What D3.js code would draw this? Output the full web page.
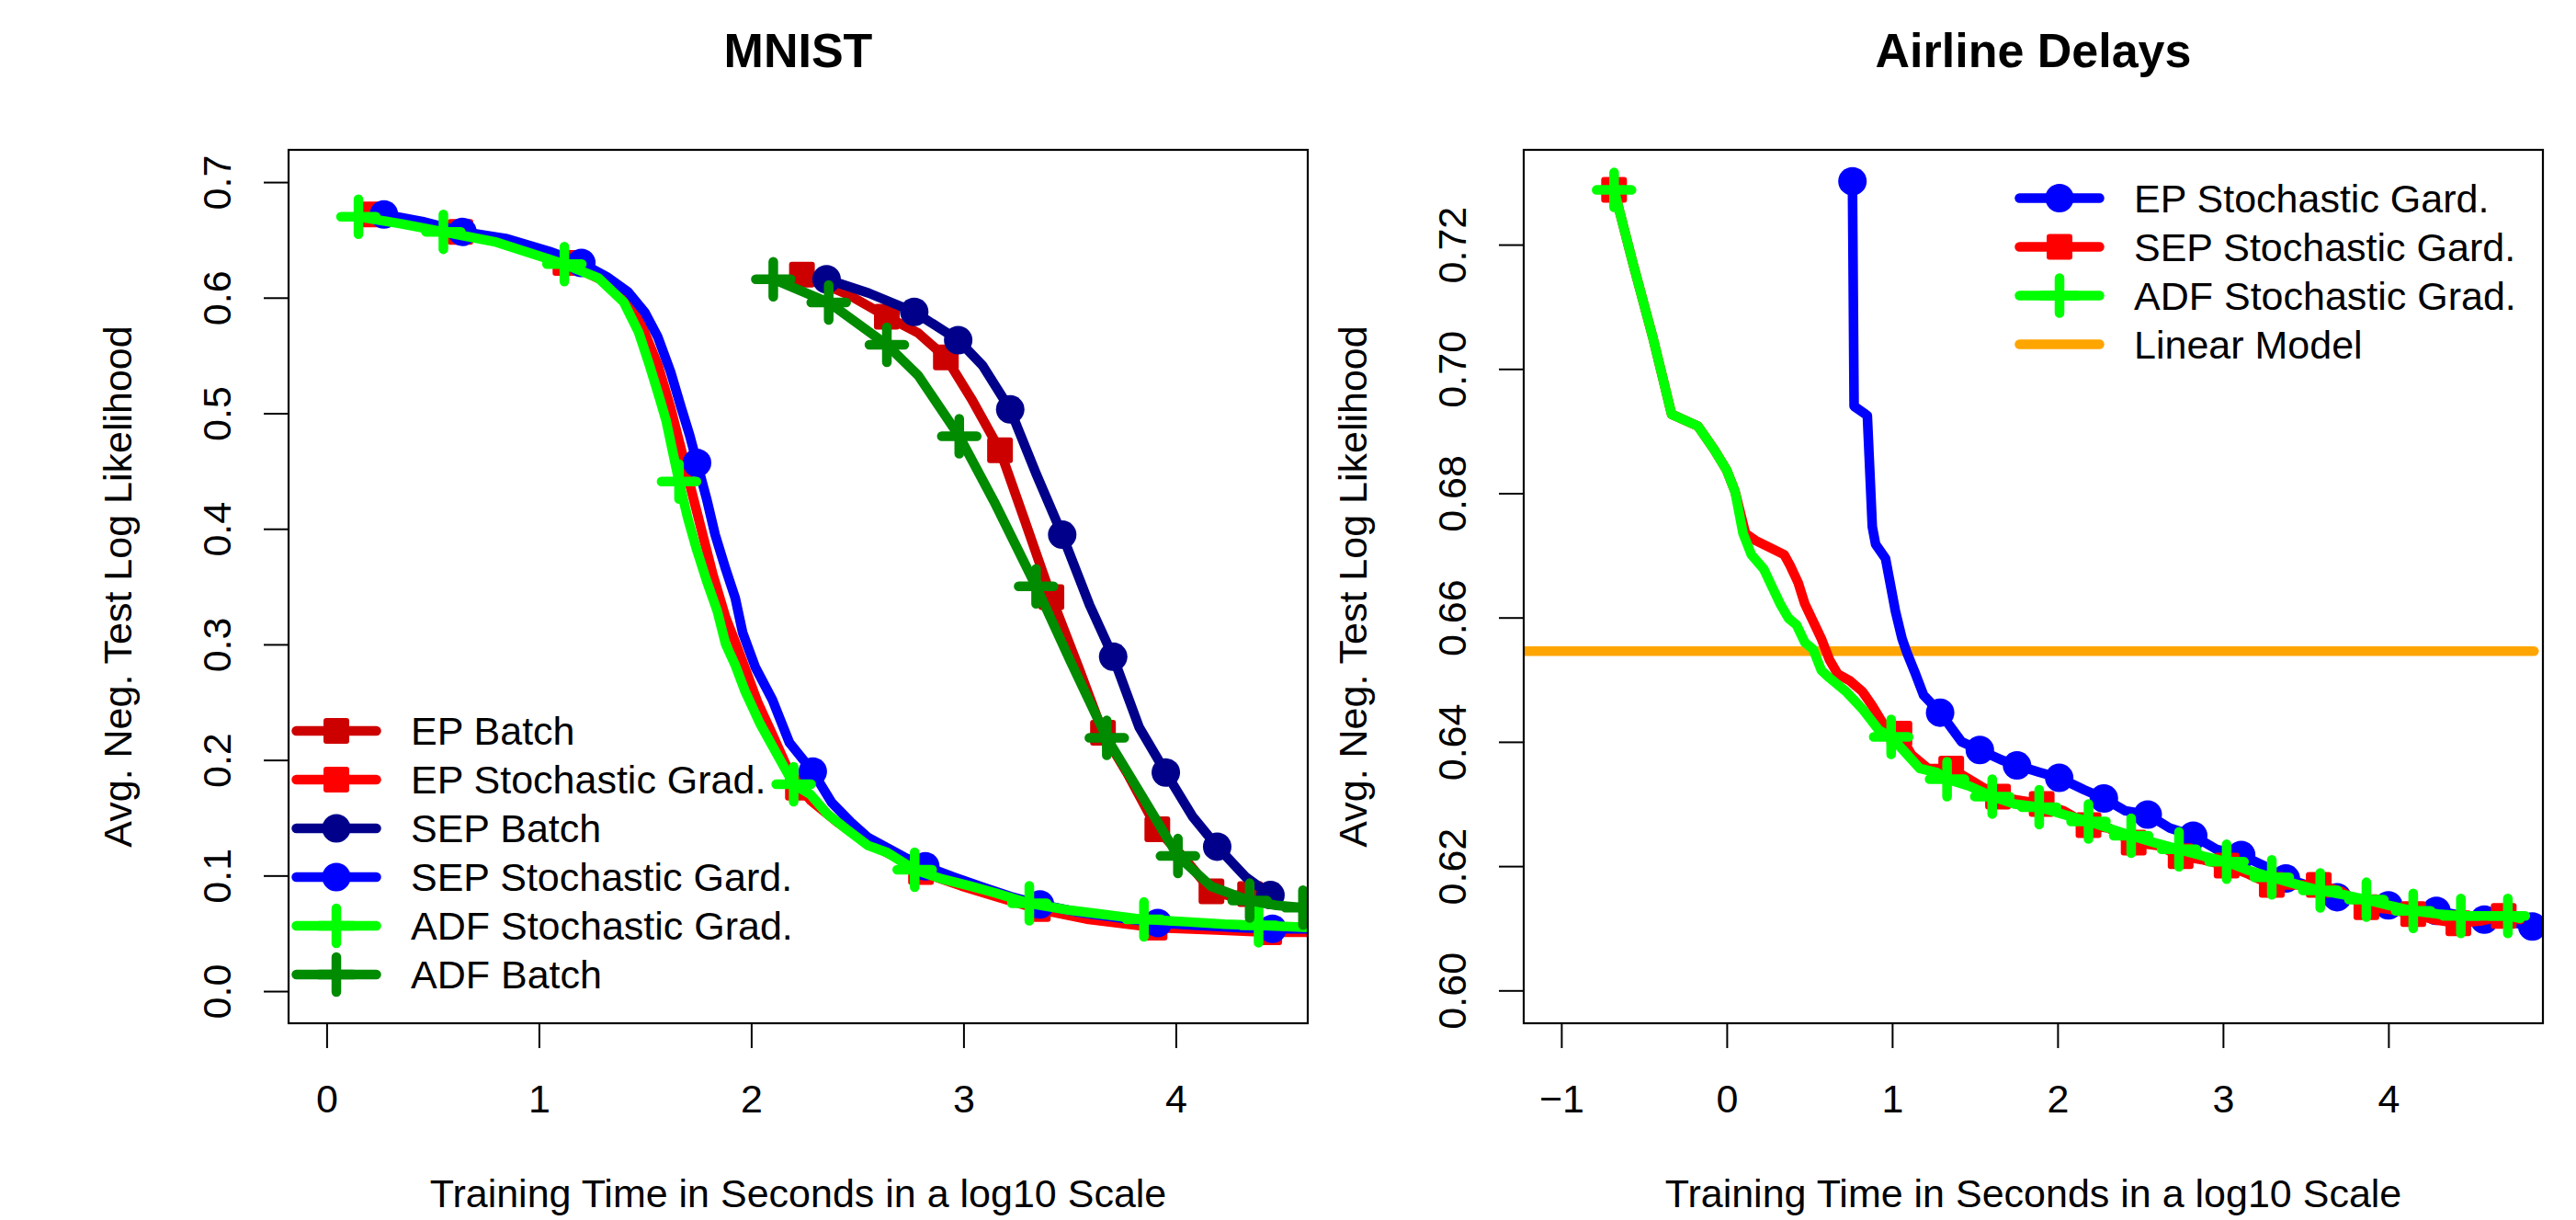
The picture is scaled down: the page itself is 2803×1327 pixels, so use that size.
<!DOCTYPE html>
<html><head><meta charset="utf-8">
<script src="https://cdn.jsdelivr.net/npm/d3@7"></script>
<style>
body{margin:0;background:#fff}
svg{display:block}
text{font-family:"Liberation Sans",Arial,Helvetica,sans-serif;fill:#000}
</style>
</head><body>
<svg id="chart" width="2803" height="1327"></svg>
<script>
// ---------------- DATA ----------------
const panelTitles = ["MNIST", "Airline Delays"];
const xAxisTitle = "Training Time in Seconds in a log10 Scale";
const yAxisTitle = "Avg. Neg. Test Log Likelihood";

const mnistXTicks = [0, 1, 2, 3, 4];
const mnistYTicks = [0, 0.1, 0.2, 0.3, 0.4, 0.5, 0.6, 0.7];
const airlineXTicks = [-1, 0, 1, 2, 3, 4];
const airlineYTicks = [0.60, 0.62, 0.64, 0.66, 0.68, 0.70, 0.72];

const mnistSeries = ["EP Batch", "EP Stochastic Grad.", "SEP Batch", "SEP Stochastic Gard.", "ADF Stochastic Grad.", "ADF Batch"];
const airlineSeries = ["EP Stochastic Gard.", "SEP Stochastic Gard.", "ADF Stochastic Grad.", "Linear Model"];

// MNIST curves [log10 seconds, avg neg test log likelihood]
const mnistEpBatch = [[2.239,0.620],[2.463,0.602],[2.639,0.5836],[2.786,0.5695],[2.917,0.5483],[3.037,0.5126],[3.172,0.468],[3.289,0.407],[3.414,0.3409],[3.540,0.2812],[3.657,0.2236],[3.773,0.188],[3.913,0.140],[4.042,0.1148],[4.168,0.0864],[4.258,0.0823],[4.35,0.084]];
const mnistEpBatchMarks = [[2.239,0.620],[2.639,0.5836],[2.917,0.5483],[3.172,0.468],[3.414,0.3409],[3.657,0.2236],[3.913,0.140],[4.168,0.0864],[4.35,0.084]];

const mnistEpSG = [[0.21,0.672],[0.41,0.664],[0.63,0.657],[0.85,0.648],[1.125,0.630],[1.30,0.615],[1.40,0.599],[1.48,0.578],[1.56,0.542],[1.62,0.505],[1.67,0.469],[1.72,0.432],[1.77,0.396],[1.82,0.360],[1.88,0.323],[1.925,0.302],[1.97,0.280],[2.03,0.250],[2.10,0.222],[2.19,0.185],[2.28,0.165],[2.40,0.147],[2.52,0.131],[2.67,0.117],[2.80,0.103],[2.99,0.091],[3.15,0.082],[3.35,0.071],[3.59,0.062],[3.90,0.055],[4.19,0.053],[4.44,0.051],[4.65,0.051]];
const mnistEpSGMarks = [[0.21,0.672],[0.63,0.657],[1.125,0.630],[2.22,0.176],[2.80,0.103],[3.35,0.071],[3.90,0.055],[4.44,0.051]];

const mnistSepBatch = [[2.355,0.616],[2.553,0.604],[2.768,0.5877],[2.975,0.5633],[3.091,0.541],[3.220,0.5033],[3.342,0.4477],[3.465,0.3949],[3.594,0.334],[3.705,0.2893],[3.827,0.2285],[3.953,0.1891],[4.078,0.1513],[4.195,0.125],[4.330,0.0986],[4.446,0.0831]];
const mnistSepBatchMarks = [[2.355,0.616],[2.768,0.5877],[2.975,0.5633],[3.220,0.5033],[3.465,0.3949],[3.705,0.2893],[3.953,0.1891],[4.195,0.125],[4.446,0.0831]];

const mnistSepSG = [[0.27,0.672],[0.45,0.666],[0.64,0.657],[0.85,0.651],[1.05,0.640],[1.20,0.630],[1.32,0.618],[1.42,0.605],[1.50,0.587],[1.56,0.566],[1.62,0.536],[1.67,0.505],[1.71,0.481],[1.745,0.457],[1.79,0.426],[1.83,0.395],[1.88,0.365],[1.925,0.340],[1.96,0.310],[2.02,0.280],[2.10,0.252],[2.18,0.215],[2.29,0.190],[2.38,0.163],[2.47,0.146],[2.55,0.133],[2.65,0.123],[2.72,0.116],[2.82,0.108],[2.95,0.099],[3.09,0.090],[3.22,0.082],[3.36,0.075],[3.55,0.068],[3.75,0.063],[3.915,0.059],[4.10,0.057],[4.30,0.055],[4.455,0.054],[4.65,0.054]];
const mnistSepSGMarks = [[0.27,0.672],[0.64,0.657],[1.20,0.630],[1.745,0.457],[2.29,0.190],[2.82,0.108],[3.36,0.075],[3.915,0.059],[4.455,0.054]];

const mnistAdfSG = [[0.15,0.670],[0.35,0.664],[0.55,0.657],[0.80,0.648],[1.12,0.629],[1.28,0.617],[1.40,0.596],[1.47,0.570],[1.52,0.542],[1.57,0.512],[1.60,0.493],[1.66,0.441],[1.70,0.410],[1.74,0.384],[1.79,0.355],[1.84,0.329],[1.88,0.300],[1.925,0.282],[1.97,0.260],[2.04,0.232],[2.10,0.212],[2.20,0.179],[2.28,0.170],[2.36,0.153],[2.45,0.140],[2.55,0.126],[2.64,0.120],[2.77,0.105],[2.90,0.097],[3.03,0.091],[3.15,0.085],[3.31,0.076],[3.50,0.070],[3.63,0.067],[3.85,0.062],[4.05,0.060],[4.23,0.058],[4.39,0.057],[4.65,0.055]];
const mnistAdfSGMarks = [[0.15,0.670],[0.55,0.657],[1.12,0.629],[1.66,0.441],[2.20,0.179],[2.77,0.105],[3.31,0.076],[3.85,0.062],[4.39,0.057]];

const mnistAdfBatch = [[2.104,0.616],[2.365,0.5958],[2.639,0.5593],[2.786,0.5329],[2.980,0.4801],[3.145,0.4233],[3.342,0.3502],[3.504,0.2853],[3.675,0.2191],[3.845,0.1676],[4.010,0.1169],[4.168,0.0905],[4.348,0.0783],[4.473,0.0742],[4.599,0.0722],[4.65,0.071]];
const mnistAdfBatchMarks = [[2.104,0.616],[2.365,0.5958],[2.639,0.5593],[2.980,0.4801],[3.342,0.3502],[3.675,0.2191],[4.010,0.1169],[4.348,0.0783],[4.599,0.0722]];

// Airline Delays curves
const airEpSG = [[0.76,0.7302],[0.77,0.694],[0.85,0.6925],[0.88,0.6746],[0.90,0.6718],[0.96,0.6695],[1.02,0.661],[1.06,0.6566],[1.09,0.6543],[1.14,0.651],[1.19,0.6475],[1.29,0.6447],[1.42,0.640],[1.53,0.6387],[1.66,0.6371],[1.755,0.6362],[1.89,0.6351],[2.01,0.6342],[2.16,0.6323],[2.28,0.6309],[2.41,0.6289],[2.545,0.6283],[2.68,0.6261],[2.82,0.6249],[2.96,0.6227],[3.11,0.6218],[3.26,0.6199],[3.38,0.618],[3.56,0.6165],[3.69,0.615],[3.85,0.6146],[4.00,0.6137],[4.15,0.6132],[4.29,0.6128],[4.45,0.612],[4.58,0.6114],[4.73,0.611],[4.87,0.6103]];
const airEpSGMarks = [[0.76,0.7302],[1.29,0.6447],[1.53,0.6387],[1.755,0.6362],[2.01,0.6342],[2.28,0.6309],[2.545,0.6283],[2.82,0.6249],[3.11,0.6218],[3.38,0.618],[3.69,0.615],[4.00,0.6137],[4.29,0.6128],[4.58,0.6114],[4.87,0.6103]];

const airSepSG = [[-0.681,0.7288],[-0.572,0.7175],[-0.447,0.7051],[-0.333,0.6927],[-0.174,0.6908],[-0.075,0.687],[0.0,0.6837],[0.050,0.6803],[0.114,0.6735],[0.174,0.6724],[0.348,0.6701],[0.383,0.6684],[0.432,0.6656],[0.472,0.6622],[0.522,0.6594],[0.572,0.6566],[0.621,0.6532],[0.671,0.6509],[0.746,0.6498],[0.820,0.6481],[0.880,0.6458],[0.944,0.643],[1.044,0.6413],[1.118,0.6379],[1.218,0.6357],[1.357,0.6357],[1.466,0.634],[1.640,0.6312],[1.764,0.6306],[1.904,0.630],[2.038,0.6289],[2.187,0.6266],[2.311,0.6261],[2.460,0.6238],[2.609,0.6233],[2.744,0.6216],[2.883,0.621],[3.022,0.6201],[3.156,0.6187],[3.295,0.617],[3.429,0.617],[3.579,0.617],[3.718,0.6159],[3.867,0.6134],[4.0,0.6131],[4.15,0.6123],[4.274,0.6114],[4.423,0.6108],[4.56,0.6112],[4.697,0.612],[4.796,0.6114]];
const airSepSGMarks = [[-0.681,0.7288],[1.044,0.6413],[1.357,0.6357],[1.640,0.6312],[1.904,0.630],[2.187,0.6266],[2.460,0.6238],[2.744,0.6216],[3.022,0.6201],[3.295,0.617],[3.579,0.617],[3.867,0.6134],[4.15,0.6123],[4.423,0.6108],[4.697,0.612]];

const airAdfSG = [[-0.681,0.7288],[-0.572,0.7175],[-0.447,0.7051],[-0.333,0.6927],[-0.174,0.6908],[-0.075,0.687],[0.0,0.6837],[0.050,0.6803],[0.099,0.6735],[0.149,0.6701],[0.224,0.6678],[0.273,0.665],[0.323,0.6622],[0.373,0.6599],[0.422,0.6588],[0.472,0.656],[0.522,0.6549],[0.572,0.6515],[0.621,0.6503],[0.721,0.6481],[0.820,0.6453],[0.919,0.6419],[0.994,0.6408],[1.093,0.6379],[1.168,0.6357],[1.267,0.6351],[1.332,0.634],[1.466,0.6329],[1.605,0.6312],[1.740,0.630],[1.889,0.6295],[2.038,0.6283],[2.187,0.6272],[2.311,0.6261],[2.445,0.6249],[2.584,0.6238],[2.734,0.6227],[2.883,0.6216],[3.022,0.6207],[3.156,0.6193],[3.295,0.6182],[3.454,0.617],[3.588,0.6161],[3.728,0.6154],[3.867,0.6146],[4.0,0.6137],[4.15,0.6128],[4.30,0.6123],[4.438,0.612],[4.58,0.612],[4.722,0.612],[4.796,0.6116]];
const airAdfSGMarks = [[-0.681,0.7288],[0.994,0.6408],[1.332,0.634],[1.605,0.6312],[1.889,0.6295],[2.187,0.6272],[2.445,0.6249],[2.734,0.6227],[3.022,0.6207],[3.295,0.6182],[3.588,0.6161],[3.867,0.6146],[4.15,0.6128],[4.438,0.612],[4.722,0.612]];

const airLinearModel = [[-1.3,0.6546],[4.88,0.6546]];

// ---------------- DRAWING ----------------
const svg = d3.select("#chart");
svg.append("rect").attr("width", 2803).attr("height", 1327).attr("fill", "#fff");

const FONT = 43;
const LW = 10.5;

function drawMarker(g, shape, color, cx, cy) {
  if (shape === "circle") {
    g.append("circle").attr("cx", cx).attr("cy", cy).attr("r", 15.5).attr("fill", color);
  } else if (shape === "square") {
    g.append("rect").attr("x", cx - 14).attr("y", cy - 14).attr("width", 28).attr("height", 28)
      .attr("rx", 3).attr("fill", color);
  } else if (shape === "plus") {
    g.append("path").attr("d", `M${cx-19},${cy}H${cx+19}M${cx},${cy-19}V${cy+19}`)
      .attr("stroke", color).attr("stroke-width", LW).attr("stroke-linecap", "round").attr("fill", "none");
  }
}

function drawPanel(p) {
  const x = d3.scaleLinear().domain(p.xDomain).range([p.left, p.right]);
  const y = d3.scaleLinear().domain(p.yDomain).range([p.bottom, p.top]);
  const id = "clip" + p.key;
  svg.append("clipPath").attr("id", id).append("rect")
    .attr("x", p.left).attr("y", p.top).attr("width", p.right - p.left).attr("height", p.bottom - p.top);
  const plot = svg.append("g").attr("clip-path", `url(#${id})`);
  const line = d3.line().x(d => x(d[0])).y(d => y(d[1]));

  p.series.forEach(s => {
    plot.append("path").datum(s.values).attr("d", line)
      .attr("fill", "none").attr("stroke", s.color).attr("stroke-width", LW)
      .attr("stroke-linejoin", "round").attr("stroke-linecap", "round");
    const mg = plot.append("g");
    (s.marks || []).forEach(m => drawMarker(mg, s.shape, s.color, x(m[0]), y(m[1])));
  });

  // box
  svg.append("rect").attr("x", p.left).attr("y", p.top)
    .attr("width", p.right - p.left).attr("height", p.bottom - p.top)
    .attr("fill", "none").attr("stroke", "#000").attr("stroke-width", 2.2);

  // x axis
  const xa = svg.append("g").attr("transform", `translate(0,${p.bottom})`)
    .call(d3.axisBottom(x).tickValues(p.xTicks).tickSize(27).tickFormat(d3.format("d")));
  xa.select(".domain").remove();
  xa.selectAll(".tick line").attr("stroke", "#000").attr("stroke-width", 2);
  xa.selectAll(".tick text").attr("y", 97).attr("dy", null)
    .style("font-size", FONT + "px").style("font-family", '"Liberation Sans",Arial,sans-serif').attr("fill", "#000");

  // y axis
  const ya = svg.append("g").attr("transform", `translate(${p.left},0)`)
    .call(d3.axisLeft(y).tickValues(p.yTicks).tickSize(27).tickFormat(d3.format(p.yFmt)));
  ya.select(".domain").remove();
  ya.selectAll(".tick line").attr("stroke", "#000").attr("stroke-width", 2);
  ya.selectAll(".tick text").attr("x", 0).attr("y", 0).attr("dy", null)
    .attr("text-anchor", "middle").attr("transform", "translate(-63,0) rotate(-90)")
    .style("font-size", FONT + "px").style("font-family", '"Liberation Sans",Arial,sans-serif').attr("fill", "#000");

  const cx = (p.left + p.right) / 2, cy = (p.top + p.bottom) / 2;
  svg.append("text").attr("x", cx).attr("y", 73).attr("text-anchor", "middle")
    .style("font-size", "52px").style("font-weight", "bold").text(p.title);
  svg.append("text").attr("x", cx).attr("y", 1313).attr("text-anchor", "middle")
    .style("font-size", FONT + "px").text(xAxisTitle);
  svg.append("text").attr("transform", `translate(${p.left - 171},${cy}) rotate(-90)`)
    .attr("text-anchor", "middle").style("font-size", FONT + "px").text(yAxisTitle);

  // legend
  const lg = svg.append("g");
  p.legend.forEach((s, i) => {
    const ry = p.legendY + i * 53;
    lg.append("line").attr("x1", p.legendX - 43.5).attr("x2", p.legendX + 43.5)
      .attr("y1", ry).attr("y2", ry).attr("stroke", s.color).attr("stroke-width", LW)
      .attr("stroke-linecap", "round");
    if (s.shape) drawMarker(lg, s.shape, s.color, p.legendX, ry);
    lg.append("text").attr("x", p.legendX + 81).attr("y", ry + 15.4)
      .style("font-size", FONT + "px").text(s.name);
  });
}

const C = {epBatch: "#CD0000", epSG: "#FF0000", sepBatch: "#00008B", sepSG: "#0000FF", adfSG: "#00FF00", adfBatch: "#008B00", lin: "#FFA500"};

const mnistDefs = [
  {name: mnistSeries[0], color: C.epBatch, shape: "square", values: mnistEpBatch, marks: mnistEpBatchMarks},
  {name: mnistSeries[1], color: C.epSG, shape: "square", values: mnistEpSG, marks: mnistEpSGMarks},
  {name: mnistSeries[2], color: C.sepBatch, shape: "circle", values: mnistSepBatch, marks: mnistSepBatchMarks},
  {name: mnistSeries[3], color: C.sepSG, shape: "circle", values: mnistSepSG, marks: mnistSepSGMarks},
  {name: mnistSeries[4], color: C.adfSG, shape: "plus", values: mnistAdfSG, marks: mnistAdfSGMarks},
  {name: mnistSeries[5], color: C.adfBatch, shape: "plus", values: mnistAdfBatch, marks: mnistAdfBatchMarks}
];

drawPanel({
  key: "m", title: panelTitles[0],
  left: 314, right: 1423, top: 163, bottom: 1113,
  xDomain: [-0.1792, 4.6216], yDomain: [-0.0278, 0.7279],
  xTicks: mnistXTicks, yTicks: mnistYTicks, yFmt: ".1f",
  series: mnistDefs, legend: mnistDefs, legendX: 366, legendY: 795
});

const airDefs = [
  {name: airlineSeries[3], color: C.lin, shape: null, values: airLinearModel, marks: []},
  {name: airlineSeries[0], color: C.sepSG, shape: "circle", values: airEpSG, marks: airEpSGMarks},
  {name: airlineSeries[1], color: C.epSG, shape: "square", values: airSepSG, marks: airSepSGMarks},
  {name: airlineSeries[2], color: C.adfSG, shape: "plus", values: airAdfSG, marks: airAdfSGMarks}
];

drawPanel({
  key: "a", title: panelTitles[1],
  left: 1658, right: 2767, top: 163, bottom: 1113,
  xDomain: [-1.2272, 4.934], yDomain: [0.59472, 0.73525],
  xTicks: airlineXTicks, yTicks: airlineYTicks, yFmt: ".2f",
  series: airDefs, legend: [airDefs[1], airDefs[2], airDefs[3], airDefs[0]],
  legendX: 2241, legendY: 215.5
});
</script>
</body></html>
